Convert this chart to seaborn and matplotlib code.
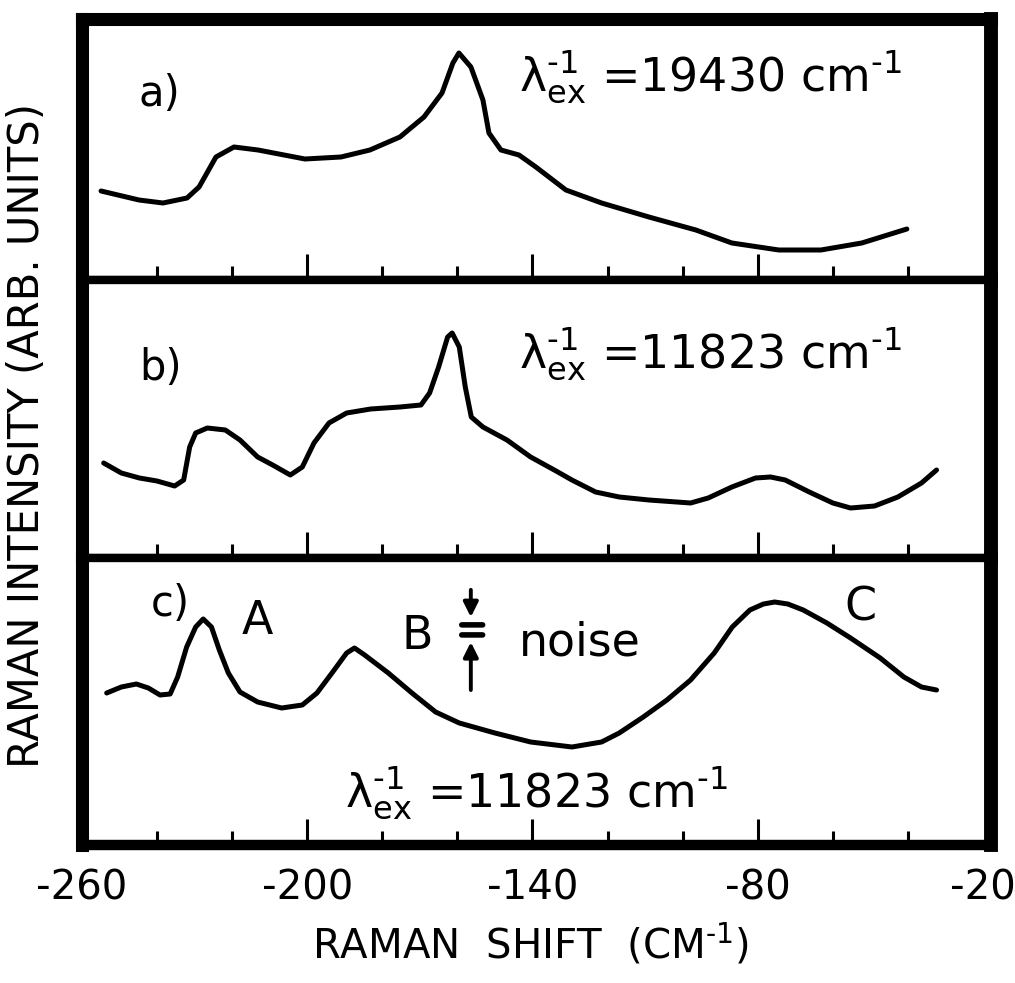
import matplotlib
matplotlib.use("Agg")
import matplotlib.pyplot as plt
import seaborn as sns
import pandas as pd

# ---------------- data ----------------
shift_a = [-254.9, -244.8, -238.4, -232.0, -228.8, -224.3, -219.5, -213.1, -200.6, -191.0,
           -183.3, -175.3, -168.9, -164.1, -161.2, -159.6, -156.4, -153.2, -151.6, -148.4,
           -143.6, -139.1, -131.1, -121.6, -109.0, -96.5, -86.9, -74.4, -63.2, -52.3, -40.3]
int_a = [0.89, 0.80, 0.77, 0.82, 0.93, 1.23, 1.33, 1.30, 1.21, 1.23,
         1.30, 1.43, 1.63, 1.87, 2.17, 2.27, 2.13, 1.80, 1.47, 1.30,
         1.25, 1.13, 0.90, 0.77, 0.63, 0.50, 0.37, 0.30, 0.30, 0.37, 0.51]

shift_b = [-254.2, -249.5, -244.7, -240.0, -235.3, -232.9, -231.3, -229.7, -226.6, -221.8,
           -217.9, -213.2, -209.2, -204.5, -201.3, -198.2, -194.2, -189.5, -183.1, -175.3,
           -169.7, -167.4, -165.0, -162.6, -161.4, -159.5, -157.9, -156.3, -153.2, -146.8,
           -140.5, -134.2, -129.5, -123.2, -116.9, -109.0, -97.9, -93.2, -86.9, -80.6,
           -76.6, -72.7, -66.3, -60.0, -55.3, -48.9, -42.7, -36.4, -32.4]
int_b = [0.95, 0.85, 0.80, 0.77, 0.72, 0.78, 1.11, 1.25, 1.30, 1.28,
         1.18, 1.01, 0.93, 0.83, 0.91, 1.15, 1.35, 1.45, 1.49, 1.51,
         1.53, 1.65, 1.91, 2.21, 2.25, 2.11, 1.71, 1.41, 1.31, 1.18,
         1.01, 0.88, 0.78, 0.66, 0.61, 0.58, 0.55, 0.60, 0.71, 0.80,
         0.81, 0.78, 0.66, 0.55, 0.50, 0.52, 0.61, 0.75, 0.88]

shift_c = [-253.4, -249.5, -245.5, -242.3, -239.2, -236.5, -234.5, -232.1, -229.7, -227.7,
           -225.5, -223.4, -221.0, -217.9, -213.2, -206.8, -201.3, -197.4, -193.4, -189.5,
           -187.4, -184.7, -178.4, -172.1, -165.8, -159.5, -150.0, -140.5, -129.5, -121.6,
           -116.9, -110.5, -104.2, -97.9, -91.6, -86.8, -82.1, -78.5, -75.5, -72.0, -67.9,
           -61.6, -55.3, -47.4, -41.1, -36.4, -32.4]
int_c = [1.52, 1.58, 1.61, 1.57, 1.50, 1.51, 1.68, 1.98, 2.18, 2.26,
         2.18, 1.95, 1.72, 1.53, 1.43, 1.37, 1.40, 1.52, 1.72, 1.92,
         1.97, 1.90, 1.72, 1.52, 1.33, 1.22, 1.12, 1.03, 0.98, 1.03,
         1.12, 1.28, 1.45, 1.65, 1.92, 2.18, 2.35, 2.41, 2.43, 2.41, 2.35,
         2.22, 2.07, 1.87, 1.68, 1.58, 1.55]

major_ticks = [-200, -140, -80]
minor_ticks = [-240, -220, -180, -160, -120, -100, -60, -40]
label_ticks = [-260, -200, -140, -80, -20]
label_texts = ["-260", "-200", "-140", "-80", "-20"]

panel_labels = ["a)", "b)", "c)"]
excitation = ["19430", "11823", "11823"]

# ---------------- style ----------------
sns.set_style("white")
plt.rcParams["font.family"] = ["DejaVu Sans"]
plt.rcParams["axes.unicode_minus"] = False
plt.rcParams["mathtext.fontset"] = "dejavusans"
plt.rcParams["text.color"] = "black"
plt.rcParams["xtick.color"] = "black"
plt.rcParams["xtick.labelcolor"] = "black"
plt.rcParams["axes.labelcolor"] = "black"

W, H = 1015, 983
fig = plt.figure(figsize=(W / 100, H / 100), dpi=100)
fig.patch.set_facecolor("white")


def rect(l, t, r, b):
    return [l / W, 1 - b / H, (r - l) / W, (b - t) / H]


L, R = 81.9, 990.6
ax_a = fig.add_axes(rect(L, 18.5, R, 280))
ax_b = fig.add_axes(rect(L, 280, R, 558))
ax_c = fig.add_axes(rect(L, 558, R, 845))

series = [(ax_a, shift_a, int_a, 2.615), (ax_b, shift_b, int_b, 2.78), (ax_c, shift_c, int_c, 2.87)]
for ax, xs, ys, ytop in series:
    df = pd.DataFrame({"shift": xs, "intensity": ys})
    sns.lineplot(data=df, x="shift", y="intensity", ax=ax, color="black",
                 linewidth=3.6, solid_capstyle="round", solid_joinstyle="round")
    ax.set_xlim(-260, -18)
    ax.set_ylim(0, ytop)
    ax.set_xticks(major_ticks)
    ax.set_xticks(minor_ticks, minor=True)
    ax.set_yticks([])
    ax.set_xlabel("")
    ax.set_ylabel("")
    ax.tick_params(axis="x", which="major", direction="in", length=19, width=2.2,
                   bottom=True, top=False, labelbottom=False, color="black")
    ax.tick_params(axis="x", which="minor", direction="in", length=10, width=2.2,
                   bottom=True, top=False, color="black")
    for s in ax.spines.values():
        s.set_color("black")
        s.set_visible(True)
        s.set_capstyle("projecting")
    ax.spines["left"].set_linewidth(9.4)
    ax.spines["right"].set_linewidth(10.0)
    ax.spines["top"].set_linewidth(6.0)
    ax.spines["bottom"].set_linewidth(6.0)

ax_a.spines["top"].set_linewidth(9.4)
ax_c.spines["bottom"].set_linewidth(7.5)

# tick labels below the bottom panel
sec = ax_c.secondary_xaxis("bottom")
sec.set_xticks(label_ticks, labels=label_texts)
sec.tick_params(length=0, pad=17, labelsize=29, labelcolor="black")
sec.spines["bottom"].set_visible(False)

HY = "\u2010"  # short hyphen as in the hand lettering

# axis titles
fig.text(27 / W, 1 - 435 / H, "RAMAN INTENSITY (ARB. UNITS)", rotation=90,
         ha="center", va="center", fontsize=30, color="black")
fig.text(530 / W, 1 - 945 / H, "RAMAN  SHIFT  (CM$^{" + HY + "1}$)",
         ha="center", va="center", fontsize=29, color="black")


def lam(val):
    return (r"$\mathrm{\lambda}^{" + HY + r"1}_{\mathrm{ex}}$ =" + val +
            " cm$^{" + HY + "1}$")


ax_a.text(0.085, 0.711, panel_labels[0], transform=ax_a.transAxes, ha="center", va="center", fontsize=30)
ax_a.text(0.481, 0.719, lam(excitation[0]), transform=ax_a.transAxes, ha="left", va="baseline", fontsize=33)

ax_b.text(0.087, 0.683, panel_labels[1], transform=ax_b.transAxes, ha="center", va="center", fontsize=30)
ax_b.text(0.481, 0.683, lam(excitation[1]), transform=ax_b.transAxes, ha="left", va="baseline", fontsize=33)

ax_c.text(0.097, 0.840, panel_labels[2], transform=ax_c.transAxes, ha="center", va="center", fontsize=30)
ax_c.text(0.193, 0.780, "A", transform=ax_c.transAxes, ha="center", va="center", fontsize=33)
ax_c.text(0.369, 0.725, "B", transform=ax_c.transAxes, ha="center", va="center", fontsize=33)
ax_c.text(0.481, 0.662, "noise", transform=ax_c.transAxes, ha="left", va="baseline", fontsize=33)
ax_c.text(0.857, 0.826, "C", transform=ax_c.transAxes, ha="center", va="center", fontsize=33)
ax_c.text(0.289, 0.132, lam(excitation[2]), transform=ax_c.transAxes, ha="left", va="baseline", fontsize=33)

# noise bar with arrows
arrow_kw = dict(arrowstyle="-|>", lw=2.8, color="black", mutation_scale=22, shrinkA=0, shrinkB=0)
ax_c.annotate("", xy=(0.428, 0.794), xytext=(0.428, 0.889), xycoords="axes fraction",
              textcoords="axes fraction", arrowprops=arrow_kw)
ax_c.annotate("", xy=(0.428, 0.707), xytext=(0.428, 0.540), xycoords="axes fraction",
              textcoords="axes fraction", arrowprops=arrow_kw)
for yb in (0.767, 0.732):
    ax_c.annotate("", xy=(0.441, yb), xytext=(0.418, yb), xycoords="axes fraction",
                  textcoords="axes fraction",
                  arrowprops=dict(arrowstyle="-", lw=4, color="black", shrinkA=0, shrinkB=0))

fig.savefig("out.png", dpi=100, facecolor="white")
